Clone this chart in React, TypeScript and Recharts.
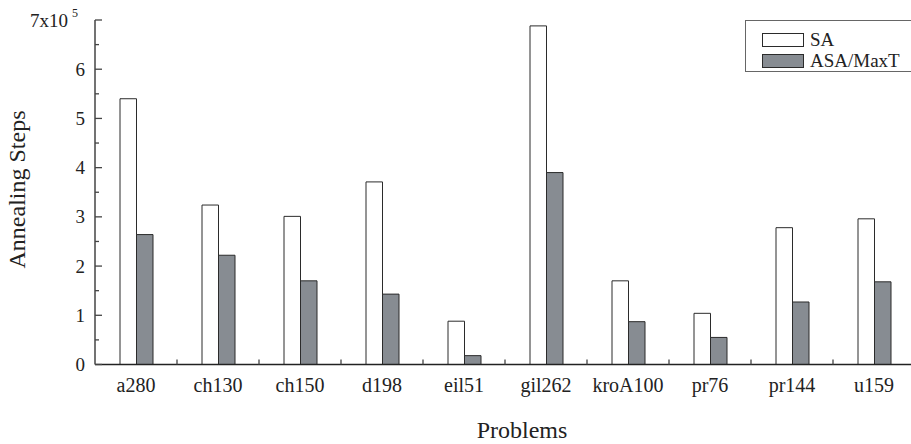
import { BarChart, Bar, XAxis, YAxis, Legend } from "recharts";

const problems = ["a280", "ch130", "ch150", "d198", "eil51", "gil262", "kroA100", "pr76", "pr144", "u159"];
// annealing steps, in units of 10^5
const saSteps = [5.4, 3.24, 3.01, 3.71, 0.88, 6.88, 1.7, 1.04, 2.78, 2.96];
const asaSteps = [2.64, 2.22, 1.7, 1.43, 0.18, 3.9, 0.87, 0.55, 1.27, 1.68];
const yTicks = [0, 0.5, 1, 1.5, 2, 2.5, 3, 3.5, 4, 4.5, 5, 5.5, 6, 6.5, 7];

const data = problems.map((p, i) => ({ name: p, SA: saSteps[i], ASA: asaSteps[i] }));

const CHART_W = 915;
const CHART_H = 444;
const Y_AXIS_W = 95;
const BAND = (CHART_W - Y_AXIS_W) / problems.length;
const Y_TICK_MARGIN = 10;
const FONT = "Liberation Serif, Times New Roman, DejaVu Serif, serif";
const txt = { fontFamily: FONT };

const series = [
  { key: "SA", label: "SA", fill: "#ffffff", stroke: "#2b2b2b" },
  { key: "ASA", label: "ASA/MaxT", fill: "#878c92", stroke: "#2b2b2b" },
];

const YTick = ({ x, y, payload }: any) => {
  const v = payload.value;
  const axisX = x + Y_TICK_MARGIN;
  const major = Number.isInteger(v);
  return (
    <g>
      <line x1={axisX} x2={axisX + (major ? 7 : 4)} y1={y} y2={y} stroke="#444" strokeWidth={1.3} />
      {major && v === 7 ? (
        <text x={x - 7} y={y} dy={7} textAnchor="end" style={txt} fontSize={19} fill="#222">
          7x10
          <tspan dx={4} dy={-10} fontSize={12}>5</tspan>
        </text>
      ) : major ? (
        <text x={x} y={y} dy={6.5} textAnchor="end" style={txt} fontSize={19} fill="#222">
          {v}
        </text>
      ) : null}
    </g>
  );
};

const XTick = ({ x, y, payload }: any) => (
  <g>
    <line x1={x + BAND / 2} x2={x + BAND / 2} y1={y} y2={y - 5} stroke="#444" strokeWidth={1.3} />
    <text x={x} y={y} dy={27} textAnchor="middle" style={txt} fontSize={20} fill="#222">
      {payload.value}
    </text>
  </g>
);

const renderLegend = () => (
  <div
    style={{
      width: 175,
      height: 52,
      border: "1px solid #666",
      background: "#fff",
      boxSizing: "border-box",
      paddingTop: 8,
      paddingLeft: 16,
      fontFamily: FONT,
      fontSize: 19,
      color: "#222",
    }}
  >
    {series.map((s) => (
      <div key={s.key} style={{ display: "flex", alignItems: "center", height: 21 }}>
        <span
          style={{
            display: "inline-block",
            width: 42,
            height: 14,
            background: s.fill,
            border: `1px solid ${s.stroke}`,
            boxSizing: "border-box",
            marginRight: 6,
          }}
        />
        <span style={{ lineHeight: "21px" }}>{s.label}</span>
      </div>
    ))}
  </div>
);

export default function App() {
  return (
    <div
      style={{
        position: "absolute",
        left: 0,
        top: 0,
        width: 911,
        height: 444,
        overflow: "hidden",
        background: "#fff",
        fontFamily: FONT,
      }}
    >
      <BarChart
        width={CHART_W}
        height={CHART_H}
        data={data}
        margin={{ top: 20, right: 0, bottom: 0, left: 0 }}
        barGap={0}
        style={txt}
      >
        <XAxis
          dataKey="name"
          height={79.5}
          tickSize={0}
          tickMargin={0}
          interval={0}
          axisLine={{ stroke: "#222", strokeWidth: 1.5 }}
          tickLine={false}
          tick={<XTick />}
          label={{
            content: () => (
              <text x={522} y={438} textAnchor="middle" style={txt} fontSize={24} fill="#222">
                Problems
              </text>
            ),
          }}
        />
        <YAxis
          width={Y_AXIS_W}
          domain={[0, 7]}
          ticks={yTicks}
          interval={0}
          tickSize={0}
          tickMargin={Y_TICK_MARGIN}
          axisLine={{ stroke: "#444", strokeWidth: 1.5 }}
          tickLine={false}
          tick={<YTick />}
          label={{
            content: () => (
              <text
                x={25}
                y={189.5}
                transform="rotate(-90, 25, 189.5)"
                textAnchor="middle"
                style={txt}
                fontSize={24}
                fill="#222"
              >
                Annealing Steps
              </text>
            ),
          }}
        />
        <Legend
          layout="vertical"
          align="center"
          verticalAlign="middle"
          content={renderLegend}
          wrapperStyle={{ left: 745, top: 20, width: 175, height: 52 }}
        />
        {series.map((s) => (
          <Bar
            key={s.key}
            dataKey={s.key}
            name={s.label}
            fill={s.fill}
            stroke={s.stroke}
            strokeWidth={1}
            barSize={16.5}
            isAnimationActive={false}
          />
        ))}
      </BarChart>
    </div>
  );
}
